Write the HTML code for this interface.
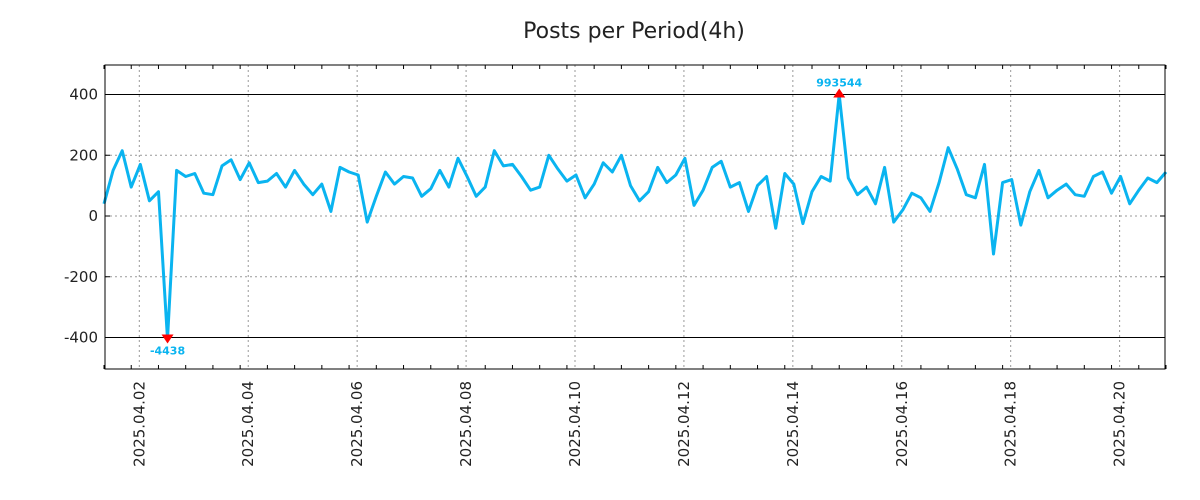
<!DOCTYPE html>
<html><head><meta charset="utf-8"><style>
body{margin:0;background:#fff;}
svg{display:block;font-family:"DejaVu Sans","Liberation Sans",sans-serif;}
</style></head><body>
<svg id="chart" width="1200" height="500" viewBox="0 0 1200 500" xmlns="http://www.w3.org/2000/svg">
<text x="634" y="38" font-size="22" text-anchor="middle" fill="#222">Posts per Period(4h)</text>
<g id="grid"></g>
<g id="series"></g>
<rect x="105" y="65" width="1060" height="304" fill="none" stroke="#000" stroke-width="1"/>
<g id="axes"></g>
</svg>
<script>
const values = [40,150,215,95,170,50,80,-405,150,130,140,75,70,165,185,120,175,110,115,140,95,150,105,70,105,15,160,145,135,-20,65,145,105,130,125,65,90,150,95,190,130,65,95,215,165,170,130,85,95,200,155,115,135,60,105,175,145,200,100,50,80,160,110,135,190,35,85,160,180,95,110,15,100,130,-40,140,105,-25,80,130,115,400,125,70,95,40,160,-20,20,75,60,15,110,225,155,70,60,170,-125,110,120,-30,80,150,60,85,105,70,65,130,145,75,130,40,85,125,110,145];
const yTicks = [-400,-200,0,200,400];
const xTickLabels = ["2025.04.02","2025.04.04","2025.04.06","2025.04.08","2025.04.10","2025.04.12","2025.04.14","2025.04.16","2025.04.18","2025.04.20"];
const xTickIndex = [4,16,28,40,52,64,76,88,100,112];
const minLabel = "-4438";
const maxLabel = "993544";

const NS="http://www.w3.org/2000/svg";
const X0=105,X1=1165,Y0=65,Y1=369;
const xs=i=>104+i*(1062/(values.length-1));
const ys=v=>216-v*(121.5/400);
function mk(tag,attrs,parent){const e=document.createElementNS(NS,tag);for(const k in attrs)e.setAttribute(k,attrs[k]);parent.appendChild(e);return e;}
const grid=document.getElementById('grid'),axes=document.getElementById('axes'),series=document.getElementById('series');
yTicks.forEach(t=>{
  const y=ys(t);const solid=Math.abs(t)===400;
  const l=mk('line',{x1:X0,x2:X1,y1:y,y2:y,stroke:solid?'#000':'#999','stroke-width':1,'stroke-dasharray':solid?'':'2,3'},grid);
  
  
  const tx=mk('text',{x:98,y:y+5,'font-size':15,'text-anchor':'end',fill:'#222'},axes);
  tx.textContent=t;
  
  
  mk('line',{x1:X0,x2:X0+5,y1:y,y2:y,stroke:'#000'},axes);
  mk('line',{x1:X1-5,x2:X1,y1:y,y2:y,stroke:'#000'},axes);
});
xTickIndex.forEach((ix,k)=>{
  const x=xs(ix)-1;
  const l=mk('line',{x1:x,x2:x,y1:Y0,y2:Y1,stroke:'#999','stroke-width':1,'stroke-dasharray':'2,3'},grid);
  
  
  const tx=mk('text',{x:0,y:0,'font-size':15,'text-anchor':'end',fill:'#222',transform:`translate(${x+5},381) rotate(-90)`},axes);
  tx.textContent=xTickLabels[k];
  
  
});
for(let i=0;i<values.length;i+=3){const x=xs(i);mk('line',{x1:x,x2:x,y1:Y1-4,y2:Y1,stroke:'#000'},axes);mk('line',{x1:x,x2:x,y1:Y0,y2:Y0+4,stroke:'#000'},axes);}
const pts=values.map((v,i)=>xs(i).toFixed(1)+','+ys(v).toFixed(1)).join(' ');
const line=mk('polyline',{points:pts,fill:'none',stroke:'#0ab4f0','stroke-width':3,'stroke-linejoin':'round'},series);


let mi=0,ma=0;values.forEach((v,i)=>{if(v<values[mi])mi=i;if(v>values[ma])ma=i;});
const mx=xs(mi),my=ys(-400);
const m1=mk('polygon',{points:`${mx-6},${my-3} ${mx+6},${my-3} ${mx},${my+6}`,fill:'#f00'},series);


const t1=mk('text',{x:mx,y:my+17,'font-size':11,'font-weight':'bold','text-anchor':'middle',fill:'#0ab4f0'},series);
t1.textContent=minLabel;


const Mx=xs(ma),My=ys(values[ma]);
const m2=mk('polygon',{points:`${Mx-6},${My+3} ${Mx+6},${My+3} ${Mx},${My-6}`,fill:'#f00'},series);


const t2=mk('text',{x:Mx,y:My-8,'font-size':11,'font-weight':'bold','text-anchor':'middle',fill:'#0ab4f0'},series);
t2.textContent=maxLabel;


</script>
</body></html>
